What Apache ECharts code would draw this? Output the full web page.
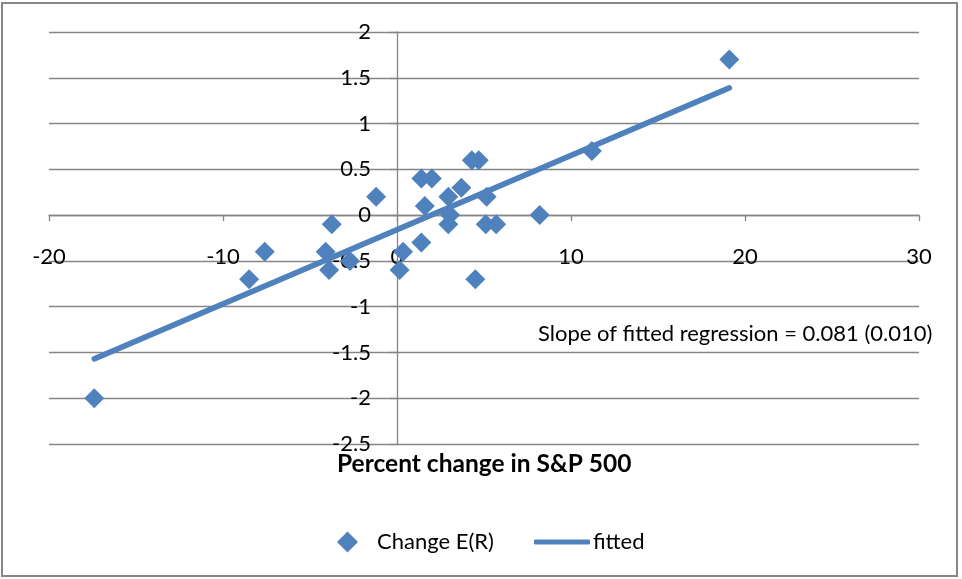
<!DOCTYPE html>
<html>
<head>
<meta charset="utf-8">
<script src="https://cdn.jsdelivr.net/npm/echarts@6/dist/echarts.min.js"></script>
<style>
html,body{margin:0;padding:0;background:#fff;}
#main{width:962px;height:579px;}
</style>
</head>
<body>
<div id="main"></div>
<script>
// Percent change in S&P 500 (x) vs Change E(R) (y)
const xValues = [-17.4, -8.5, -7.6, -4.1, -3.9, -3.75, -2.7, -1.2, 0.15, 0.35, 1.4, 1.4, 2.0, 1.6, 2.95, 2.95, 3.05, 3.7, 4.3, 4.7, 4.5, 5.15, 5.1, 5.7, 8.2, 11.2, 19.1];
const yValues = [-2.0, -0.7, -0.4, -0.4, -0.6, -0.1, -0.5, 0.2, -0.6, -0.4, -0.3, 0.4, 0.4, 0.1, 0.2, -0.1, 0.0, 0.3, 0.6, 0.6, -0.7, 0.2, -0.1, -0.1, 0.0, 0.7, 1.7];
// fitted regression line end points
const fittedX = [-17.4, 19.1];
const fittedY = [-1.57, 1.39];
const xTicks = [-20, -10, 0, 10, 20, 30];
const yTicks = [-2.5, -2, -1.5, -1, -0.5, 0, 0.5, 1, 1.5, 2];
const seriesNames = ['Change E(R)', 'fitted'];
const xTitle = 'Percent change in S&P 500';
const note = 'Slope of fitted regression = 0.081 (0.010)';

const BLUE = '#4F81BD';
const GRAY = '#868686';
const FONT = 'Lato';

const W = 962, H = 579;
const G = {left: 49, right: 43, top: 32, bottom: 135};
const gridW = W - G.left - G.right;
const gridH = H - G.top - G.bottom;
const xMin = xTicks[0], xMax = xTicks[xTicks.length - 1];
const yMin = yTicks[0], yMax = yTicks[yTicks.length - 1];
// axes cross at zero: shift each axis from its grid edge to the other axis' zero
const xAxisOffset = -gridH * (0 - yMin) / (yMax - yMin);
const yAxisOffset = -gridW * (0 - xMin) / (xMax - xMin);

const scatterData = xValues.map((x, i) => [x, yValues[i]]);
const fittedData = fittedX.map((x, i) => [x, fittedY[i]]);

const chart = echarts.init(document.getElementById('main'), null, {renderer: 'canvas'});
chart.setOption({
  animation: false,
  backgroundColor: '#fff',
  textStyle: {fontFamily: FONT},
  grid: {left: G.left, right: G.right, top: G.top, bottom: G.bottom, containLabel: false, outerBoundsMode: 'none'},
  xAxis: {
    type: 'value', position: 'bottom', offset: xAxisOffset,
    min: xMin, max: xMax, interval: 10,
    axisLine: {show: true, onZero: false, lineStyle: {color: GRAY, width: 1.3}},
    axisTick: {show: true, length: 6, lineStyle: {color: GRAY, width: 1.3}},
    splitLine: {show: false},
    axisLabel: {margin: 31, color: '#000', fontFamily: FONT, fontSize: 22}
  },
  yAxis: {
    type: 'value', position: 'left', offset: yAxisOffset,
    min: yMin, max: yMax, interval: 0.5,
    axisLine: {show: true, onZero: false, lineStyle: {color: GRAY, width: 1.3}},
    axisTick: {show: true, length: 7, lineStyle: {color: GRAY, width: 1.3}},
    splitLine: {show: true, lineStyle: {color: GRAY, width: 1.3}},
    axisLabel: {margin: 26, color: '#000', fontFamily: FONT, fontSize: 22}
  },
  legend: [{
    data: [{name: seriesNames[0], icon: 'diamond'}],
    left: 332, top: 526,
    itemWidth: 21, itemHeight: 21,
    textStyle: {color: '#000', fontFamily: FONT, fontSize: 22, padding: [0, 0, 0, 14]},
    selectedMode: false
  }, {
    data: [{name: seriesNames[1], icon: 'roundRect'}],
    left: 529, top: 526,
    itemWidth: 56, itemHeight: 5,
    textStyle: {color: '#000', fontFamily: FONT, fontSize: 22, padding: [0, 0, 0, -2]},
    selectedMode: false
  }],
  graphic: [
    {type: 'rect', shape: {x: 2, y: 3, width: 955, height: 573}, style: {fill: 'none', stroke: GRAY, lineWidth: 2}, silent: true, z: -1},
    {type: 'text', left: 337, top: 452, style: {text: xTitle, fill: '#000', font: 'bold 24.5px ' + FONT}},
    {type: 'text', left: 538, top: 323, style: {text: note, fill: '#000', font: '22px ' + FONT}}
  ],
  series: [
    {
      name: seriesNames[0], type: 'scatter', data: scatterData,
      symbol: 'diamond', symbolSize: 20,
      itemStyle: {color: BLUE, opacity: 1}, z: 3
    },
    {
      name: seriesNames[1], type: 'line', data: fittedData,
      showSymbol: false, symbol: 'none',
      lineStyle: {color: BLUE, width: 5.5, cap: 'round'},
      itemStyle: {color: BLUE}, z: 2
    }
  ]
});
</script>
</body>
</html>
